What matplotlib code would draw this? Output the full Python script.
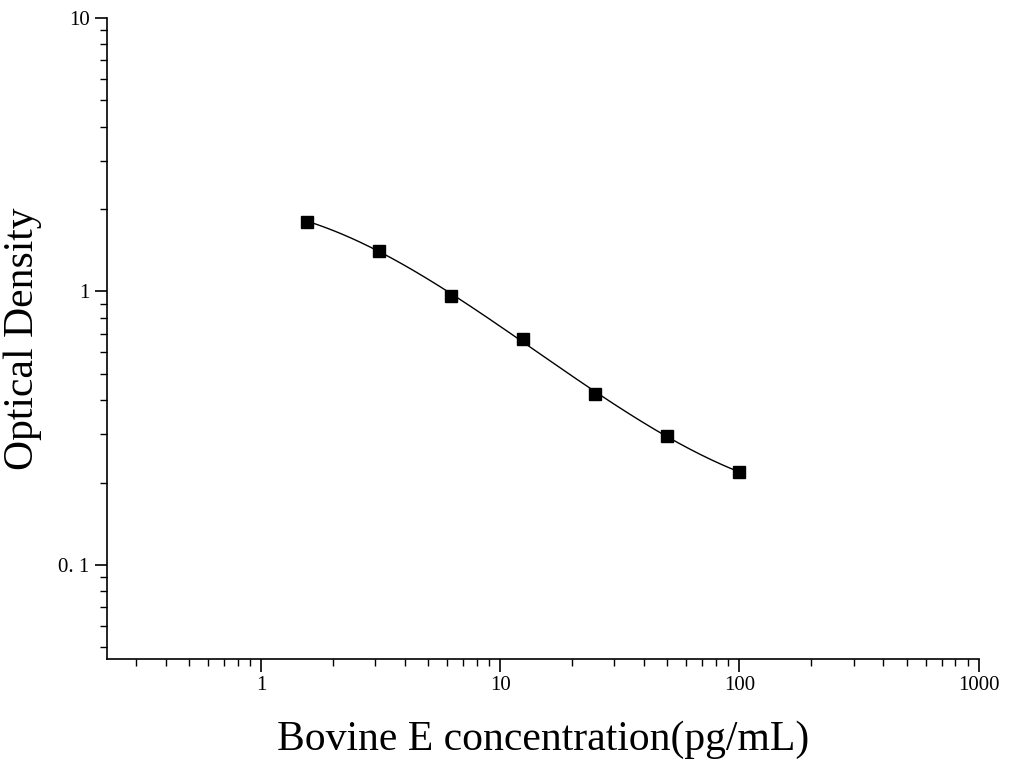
import numpy as np
import matplotlib
matplotlib.use("Agg")
import matplotlib.pyplot as plt
from matplotlib.ticker import LogLocator, FixedLocator, FixedFormatter, NullFormatter

conc = [1.5625, 3.125, 6.25, 12.5, 25, 50, 100]
od = [1.80, 1.41, 0.96, 0.668, 0.42, 0.297, 0.218]

plt.rcParams["font.family"] = ["Liberation Serif", "DejaVu Serif"]

fig = plt.figure(figsize=(10.28, 7.77), dpi=100)
ax = fig.add_axes([0.104, 0.152, 0.848, 0.825])

# smooth curve: cubic fit in log-log space
lx, ly = np.log10(conc), np.log10(od)
coef = np.polyfit(lx, ly, 3)
xs = np.linspace(lx[0], lx[-1], 200)
ax.plot(10 ** xs, 10 ** np.polyval(coef, xs), color="black", lw=1)
ax.plot(conc, od, "s", color="black", ms=9)

ax.set_xscale("log")
ax.set_yscale("log")
ax.set_xlim(0.227, 1000)
ax.set_ylim(0.0453, 10)

ax.xaxis.set_major_locator(FixedLocator([1, 10, 100, 1000]))
ax.xaxis.set_major_formatter(FixedFormatter(["1", "10", "100", "1000"]))
ax.xaxis.set_minor_locator(LogLocator(base=10, subs=np.arange(2, 10)))
ax.xaxis.set_minor_formatter(NullFormatter())
ax.yaxis.set_major_locator(FixedLocator([0.1, 1, 10]))
ax.yaxis.set_major_formatter(FixedFormatter(["0. 1", "1", "10"]))
ax.yaxis.set_minor_locator(LogLocator(base=10, subs=np.arange(2, 10)))
ax.yaxis.set_minor_formatter(NullFormatter())

ax.tick_params(which="major", direction="out", length=9, width=1.2, labelsize=15)
ax.tick_params(which="minor", direction="out", length=5, width=1)
for s in ("top", "right"):
    ax.spines[s].set_visible(False)
for s in ("left", "bottom"):
    ax.spines[s].set_linewidth(1.2)

ax.set_xlabel("Bovine E concentration(pg/mL)", fontsize=30, labelpad=18)
ax.set_ylabel("Optical Density", fontsize=30, labelpad=12)

fig.savefig("out.png", dpi=100)
